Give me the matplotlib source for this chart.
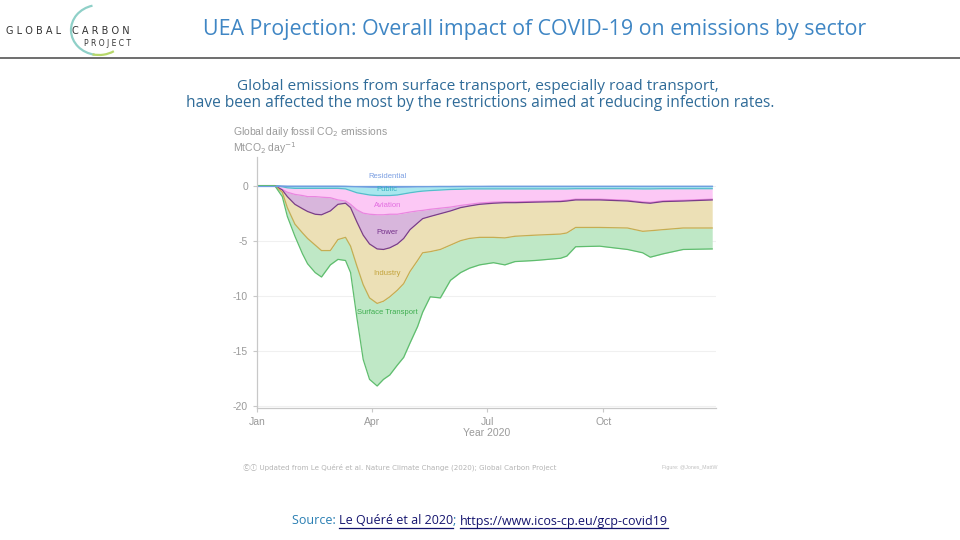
import matplotlib
matplotlib.use("Agg")
import matplotlib.pyplot as plt
from matplotlib.patches import Arc
from matplotlib.lines import Line2D

# day of year 2020 at which the stacked edges were read
days = [0, 14, 20, 24, 30, 36, 40, 46, 51, 58, 64, 70, 74, 79, 84, 89, 95, 100,
        105, 111, 116, 121, 127, 131, 137, 145, 153, 161, 168, 176, 187, 196,
        204, 220, 240, 245, 252, 271, 293, 305, 311, 321, 337, 360]

# lower edge of each cumulative layer (MtCO2 per day, change vs 2019)
residential = [0, 0, -0.03, -0.05, -0.05, -0.05, -0.05, -0.05, -0.05, -0.05,
               -0.05, -0.06, -0.08, -0.1, -0.12, -0.14, -0.15, -0.15, -0.15,
               -0.14, -0.13, -0.12, -0.1, -0.1, -0.09, -0.08, -0.08, -0.07,
               -0.07, -0.07, -0.06, -0.06, -0.06, -0.06, -0.06, -0.06, -0.06,
               -0.06, -0.06, -0.06, -0.06, -0.06, -0.06, -0.06]
public = [0, 0, -0.1, -0.2, -0.25, -0.25, -0.25, -0.25, -0.25, -0.25, -0.25,
          -0.3, -0.45, -0.65, -0.75, -0.85, -0.9, -0.9, -0.9, -0.85, -0.75,
          -0.65, -0.55, -0.5, -0.45, -0.4, -0.35, -0.33, -0.3, -0.3, -0.3,
          -0.3, -0.3, -0.3, -0.3, -0.3, -0.28, -0.28, -0.28, -0.3, -0.3,
          -0.28, -0.28, -0.28]
aviation = [0, 0, -0.35, -0.6, -0.8, -0.9, -1.0, -1.0, -1.05, -1.1, -1.3, -1.4,
            -1.7, -2.2, -2.5, -2.6, -2.65, -2.65, -2.6, -2.6, -2.5, -2.4, -2.3,
            -2.25, -2.15, -2.05, -1.95, -1.8, -1.7, -1.58, -1.5, -1.47, -1.47,
            -1.43, -1.38, -1.33, -1.23, -1.23, -1.33, -1.48, -1.53, -1.38,
            -1.33, -1.23]
power = [0, 0, -0.4, -1.0, -1.7, -2.1, -2.35, -2.6, -2.65, -2.3, -1.7, -1.6,
         -2.0, -3.3, -4.5, -5.3, -5.75, -5.8, -5.65, -5.3, -4.8, -4.0, -3.4,
         -3.0, -2.8, -2.55, -2.3, -2.0, -1.85, -1.7, -1.6, -1.55, -1.55, -1.5,
         -1.45, -1.4, -1.3, -1.3, -1.4, -1.55, -1.6, -1.45, -1.4, -1.3]
industry = [0, 0, -0.6, -2.0, -3.5, -4.3, -4.8, -5.4, -5.9, -5.9, -4.9, -4.7,
            -5.5, -7.3, -9.0, -10.2, -10.7, -10.5, -10.1, -9.5, -8.9, -7.8,
            -6.8, -6.1, -6.0, -5.8, -5.4, -5.0, -4.8, -4.7, -4.7, -4.75, -4.6,
            -4.5, -4.4, -4.3, -3.8, -3.8, -3.85, -4.15, -4.1, -4.0, -3.85,
            -3.85]
surface = [0, 0, -1.0, -2.8, -4.6, -6.2, -7.1, -7.9, -8.3, -7.2, -6.7, -6.8,
           -7.9, -12.0, -15.8, -17.6, -18.2, -17.6, -17.2, -16.3, -15.6, -14.3,
           -12.8, -11.5, -10.1, -10.2, -8.6, -7.9, -7.5, -7.2, -7.0, -7.2, -6.9,
           -6.8, -6.6, -6.4, -5.55, -5.5, -5.8, -6.1, -6.5, -6.2, -5.8, -5.75]

layers = [residential, public, aviation, power, industry, surface]
names = ['Residential', 'Public', 'Aviation', 'Power', 'Industry', 'Surface Transport']
fills = ['#b9d3f3', '#a9e7ee', '#fcc8f5', '#d8b6dc', '#ece0b6', '#bfe8c6']
edges = ['#6f9fe0', '#55bccb', '#ea86e0', '#7a3e86', '#c5ad52', '#5fbd6e']
label_cols = ['#7b9fe2', '#36b2c2', '#e26ee0', '#74308a', '#c3a33a', '#3fae50']
label_y = [0.82, -0.36, -1.82, -4.27, -8.0, -11.55]

tick_days = [0, 91, 182, 274]
tick_names = ['Jan', 'Apr', 'Jul', 'Oct']

W, H = 960, 540
fig = plt.figure(figsize=(9.6, 5.4), dpi=100)
fig.patch.set_facecolor('white')

def fx(x):
    return x / W

def fy(y):
    return 1 - y / H

# header
fig.text(fx(535), fy(30), 'UEA Projection: Overall impact of COVID-19 on emissions by sector',
         ha='center', va='center', fontsize=15.4, color='#3f86c4', family='Open Sans')
fig.add_artist(Line2D([0, 1], [fy(58), fy(58)], color='#555555', lw=1.2))
fig.text(fx(34), fy(31), 'G L O B A L', ha='center', va='center', fontsize=7,
         color='#333333', family='DejaVu Sans')
fig.text(fx(101), fy(31), 'C A R B O N', ha='center', va='center', fontsize=7,
         color='#333333', family='DejaVu Sans')
fig.text(fx(107), fy(43), 'P R O J E C T', ha='center', va='center', fontsize=5.5,
         color='#333333', family='DejaVu Sans')
logo = fig.add_axes([0, fy(60), fx(200), 60 / H])
logo.set_xlim(0, 200)
logo.set_ylim(60, 0)
logo.axis('off')
logo.add_patch(Arc((99, 30), 56, 50, theta1=100, theta2=255, color='#8fd0c8', lw=1.6))
logo.add_patch(Arc((99, 30), 56, 50, theta1=55, theta2=105, color='#b7d86a', lw=1.6))

fig.text(fx(478), fy(87), 'Global emissions from surface transport, especially road transport,',
         ha='center', va='center', fontsize=11.1, color='#2f6b98', family='Open Sans')
fig.text(fx(480), fy(103), 'have been affected the most by the restrictions aimed at reducing infection rates.',
         ha='center', va='center', fontsize=11.2, color='#2f6b98', family='Open Sans')

# chart
ax = fig.add_axes([fx(257), fy(408), fx(716) - fx(257), (408 - 157) / H])
top = [0] * len(days)
for i, lay in enumerate(layers):
    ax.fill_between(days, top, lay, color=fills[i], lw=0)
    ax.plot(days, lay, color=edges[i], lw=0.9)
    top = lay
ax.plot(days, [0] * len(days), color='#6f9fe0', lw=0.9)
for i in range(len(names)):
    ax.text(103, label_y[i], names[i], ha='center', va='center', fontsize=5.5,
            color=label_cols[i], family='Liberation Sans')

ax.set_xlim(0, 363)
ax.set_ylim(-20.2, 2.6)
ax.set_yticks([0, -5, -10, -15, -20])
ax.set_yticklabels(['0', '-5', '-10', '-15', '-20'])
ax.set_xticks(tick_days)
ax.set_xticklabels(tick_names)
ax.grid(axis='y', color='#f0f0f0', lw=0.8)
ax.set_axisbelow(True)
for s in ['top', 'right']:
    ax.spines[s].set_visible(False)
for s in ['left', 'bottom']:
    ax.spines[s].set_color('#c8c8c8')
    ax.spines[s].set_linewidth(0.9)
ax.tick_params(colors='#c8c8c8', labelcolor='#9a9a9a', labelsize=7.5, length=3, width=0.8)
for t in ax.get_xticklabels() + ax.get_yticklabels():
    t.set_family('Liberation Sans')
ax.set_xlabel('Year 2020', fontsize=7.5, color='#9a9a9a', family='Liberation Sans', labelpad=1)

fig.text(fx(233), fy(132), 'Global daily fossil CO$_2$ emissions', ha='left', va='center',
         fontsize=7.5, color='#9a9a9a', family='Liberation Sans')
fig.text(fx(233), fy(148), 'MtCO$_2$ day$^{-1}$', ha='left', va='center',
         fontsize=7.5, color='#9a9a9a', family='Liberation Sans')

fig.text(fx(243), fy(467), '\u24b8\u24be Updated from Le Quéré et al. Nature Climate Change (2020); Global Carbon Project',
         ha='left', va='center', fontsize=5.1, color='#b4b4b4',
         family=['DejaVu Sans', 'Noto Sans CJK SC'])
fig.text(fx(717), fy(468), 'Figure: @Jones_MattW', ha='right', va='center', fontsize=3.8,
         color='#c0c0c0', family='Liberation Sans')

# source line with underlined links
src_parts = [('Source: ', '#2a7fb3', False), ('Le Quéré et al 2020', '#14146e', True),
             ('; ', '#2a7fb3', False), ('https://www.icos-cp.eu/gcp-covid19', '#14146e', True)]
fig.canvas.draw()
r = fig.canvas.get_renderer()
pieces = []
for txt, col, ul in src_parts:
    pieces.append(fig.text(0, fy(521), txt, ha='left', va='center', fontsize=9,
                           color=col, family='Open Sans'))
fig.canvas.draw()
widths = [p.get_window_extent(r).width for p in pieces]
x0 = 480 - sum(widths) / 2
for p, w, part in zip(pieces, widths, src_parts):
    p.set_x(x0 / W)
    if part[2]:
        fig.add_artist(Line2D([x0 / W, (x0 + w) / W], [fy(528), fy(528)],
                              color=part[1], lw=0.9))
    x0 += w

fig.savefig('out.png', dpi=100, facecolor='white')
